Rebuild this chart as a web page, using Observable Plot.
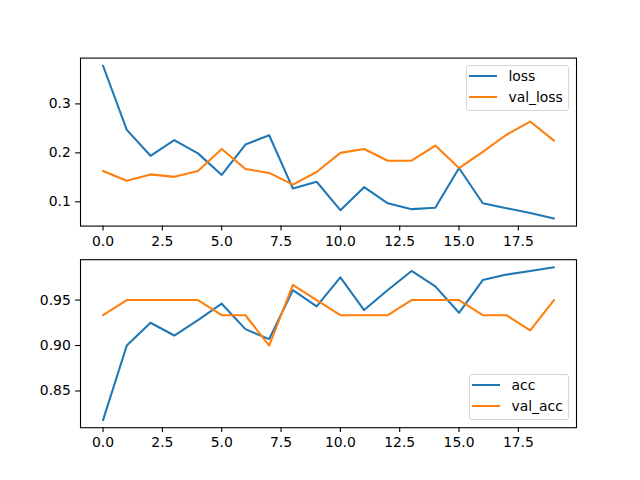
<!DOCTYPE html>
<html>
<head>
<meta charset="utf-8">
<script src="https://cdn.jsdelivr.net/npm/d3@7"></script>
<script src="https://cdn.jsdelivr.net/npm/@observablehq/plot@0.6"></script>
<style>
  html, body { margin: 0; padding: 0; background: white; }
  #fig { position: relative; width: 640px; height: 480px; overflow: hidden; background: white; font-family: "DejaVu Sans", sans-serif; }
  #fig svg { position: absolute; left: 0; }
  .legend { position: absolute; right: 71px; box-sizing: border-box; border: 1px solid #d6d6d6; border-radius: 3px;
            background: rgba(255,255,255,0.8); padding: 0 5.2px 2.4px 2.3px; font-size: 13.9px; color: black; }
  .legend .row { display: flex; align-items: center; height: 21.3px; white-space: nowrap; }
  .legend .row:first-child { margin-top: -1.2px; }
  .legend .swatch { width: 28px; height: 2.08px; margin-right: 11.1px; }
</style>
</head>
<body>
<div id="fig"></div>
<script>
// ---- data ----
const epochs   = [0,1,2,3,4,5,6,7,8,9,10,11,12,13,14,15,16,17,18,19];
const loss     = [0.378,0.247,0.194,0.226,0.199,0.155,0.217,0.236,0.127,0.141,0.083,0.130,0.097,0.085,0.088,0.169,0.097,0.087,0.077,0.066];
const val_loss = [0.163,0.143,0.156,0.151,0.163,0.208,0.167,0.159,0.135,0.161,0.200,0.208,0.184,0.184,0.215,0.169,0.202,0.237,0.264,0.225];
const acc      = [0.818,0.900,0.925,0.911,0.928,0.946,0.918,0.907,0.961,0.943,0.975,0.939,0.961,0.982,0.965,0.936,0.972,0.978,0.982,0.986];
const val_acc  = [0.9333,0.95,0.95,0.95,0.95,0.9333,0.9333,0.9,0.9667,0.95,0.9333,0.9333,0.9333,0.95,0.95,0.95,0.9333,0.9333,0.9167,0.95];
const xTicks    = [0,2.5,5,7.5,10,12.5,15,17.5];
const lossTicks = [0.1,0.2,0.3];
const accTicks  = [0.85,0.90,0.95];
const topNames    = ["loss","val_loss"];
const bottomNames = ["acc","val_acc"];
const colors = ["#1f77b4","#ff7f0e"];

// ---- helpers ----
function padDomain(values) {
  const [lo, hi] = d3.extent(values);
  const m = (hi - lo) * 0.05;
  return [lo - m, hi + m];
}
const fig = document.getElementById("fig");
const tickSize = 4.86, tickPadding = 4.86;
const baseStyle = {fontFamily: "DejaVu Sans", fontSize: "13.9px", color: "black", background: "transparent", overflow: "visible"};

function panel(seriesA, seriesB, yTicks, yFmt, opts) {
  const rows = epochs.map((e, i) => ({epoch: e, a: seriesA[i], b: seriesB[i]}));
  const svg = Plot.plot({
    width: 640, height: opts.height,
    marginLeft: 80, marginRight: 64, marginTop: opts.marginTop, marginBottom: opts.marginBottom,
    x: {domain: padDomain(epochs)},
    y: {domain: padDomain([...seriesA, ...seriesB])},
    style: baseStyle,
    marks: [
      Plot.lineY(rows, {x: "epoch", y: "a", stroke: colors[0], strokeWidth: 2.08}),
      Plot.lineY(rows, {x: "epoch", y: "b", stroke: colors[1], strokeWidth: 2.08}),
      Plot.axisX({ticks: xTicks, tickFormat: d3.format(".1f"), tickSize, tickPadding, label: null, strokeWidth: 1.1, fill: "black"}),
      Plot.axisY({ticks: yTicks, tickFormat: d3.format(yFmt), tickSize, tickPadding, label: null, strokeWidth: 1.1, fill: "black"}),
      Plot.frame({stroke: "black", strokeWidth: 1.1})
    ]
  });
  svg.style.top = opts.top + "px";
  fig.appendChild(svg);
}

function legend(names, pos) {
  const div = document.createElement("div");
  div.className = "legend";
  Object.assign(div.style, pos);
  names.forEach((n, i) => {
    const row = document.createElement("div");
    row.className = "row";
    const sw = document.createElement("div");
    sw.className = "swatch";
    sw.style.background = colors[i];
    const t = document.createElement("span");
    t.textContent = n;
    row.appendChild(sw); row.appendChild(t);
    div.appendChild(row);
  });
  fig.appendChild(div);
}

// top panel: frame y 57.6 .. 225.6
panel(loss, val_loss, lossTicks, ".1f", {top: 0, height: 250, marginTop: 57.6, marginBottom: 24.4});
// bottom panel: frame y 259.2 .. 427.2
panel(acc, val_acc, accTicks, ".2f", {top: 250, height: 230, marginTop: 9.2, marginBottom: 52.8});

legend(topNames, {top: "65.3px"});
legend(bottomNames, {bottom: "60px"});
</script>
</body>
</html>
